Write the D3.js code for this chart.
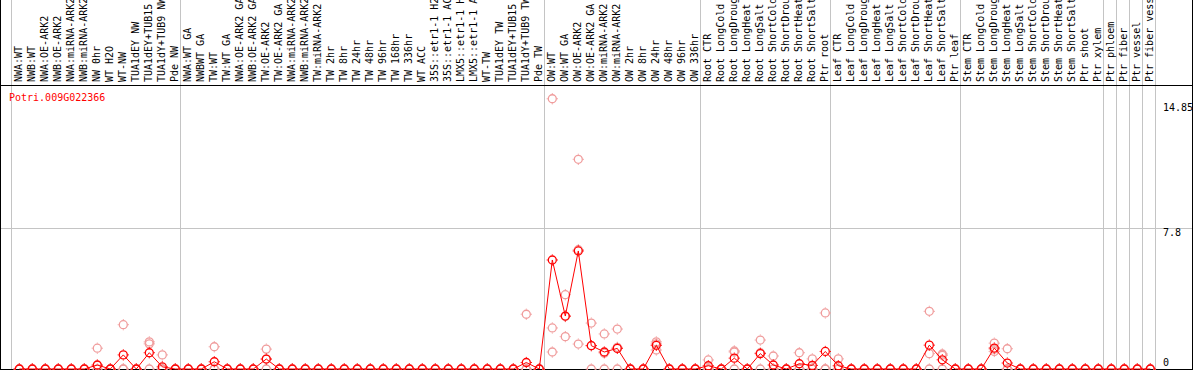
<!DOCTYPE html>
<html><head><meta charset="utf-8">
<script src="https://cdn.jsdelivr.net/npm/d3@7"></script>
<style>html,body{margin:0;padding:0;background:#fff;overflow:hidden}</style>
</head><body>
<script>
const geneId = "Potri.009G022366";

const samples = [
  "NWA:WT","NWB:WT","NWA:OE-ARK2","NWB:OE-ARK2","NWA:miRNA-ARK2","NWB:miRNA-ARK2","NW 0hr","WT H2O","WT-NW","TUA1dEY NW","TUA1dEY+TUB15","TUA1dY+TUB9 NW","Pde NW",
  "NWA:WT GA","NWBWT GA","TW:WT","TW:WT GA","NWA:OE-ARK2 GA","NWB:OE-ARK2 GA","TW:OE-ARK2","TW:OE-ARK2 GA","NWA:miRNA-ARK2","NWB:miRNA-ARK2","TW:miRNA-ARK2","TW 2hr","TW 8hr","TW 24hr","TW 48hr","TW 96hr","TW 168hr","TW 336hr","WT ACC","35S::etr1-1 H2","35S::etr1-1 AC","LMX5::etr1-1 H","LMX5::etr1-1 A","WT-TW","TUA1dEY TW","TUA1dEY+TUB15","TUA1dY+TUB9 TW","Pde TW",
  "OW:WT","OW:WT GA","OW:OE-ARK2","OW:OE-ARK2 GA","OW:miRNA-ARK2","OW:miRNA-ARK2","OW 2hr","OW 8hr","OW 24hr","OW 48hr","OW 96hr","OW 336hr",
  "Root CTR","Root LongCold","Root LongDroug","Root LongHeat","Root LongSalt","Root ShortCold","Root ShortDrou","Root ShortHeat","Root ShortSalt","Ptr root",
  "Leaf CTR","Leaf LongCold","Leaf LongDroug","Leaf LongHeat","Leaf LongSalt","Leaf ShortCold","Leaf ShortDrou","Leaf ShortHeat","Leaf ShortSalt","Ptr leaf",
  "Stem CTR","Stem LongCold","Stem LongDroug","Stem LongHeat","Stem LongSalt","Stem ShortCold","Stem ShortDrou","Stem ShortHeat","Stem ShortSalt","Ptr shoot","Ptr xylem",
  "Ptr phloem","Ptr fiber","Ptr vessel","Ptr fiber vess"
];

// first sample index of each group (last entry = end)
const groupStarts = [0, 13, 41, 53, 63, 73, 84, 85, 86, 87, 88];

const means = [
  0,0,0,0,0,0,0.22,0,0.78,0,0.9,0.12,0,
  0,0,0.4,0,0,0,0.55,0, 0,0,0,0,0,0,0,0, 0,0,0,0,0,0,0,0,0,0,0.36,0,
  6.03,2.93,6.53,1.29,0.94,1.14,0,0,1.31,0,0,0,
  0.18,0,0.6,0,0.85,0.22,0,0.29,0.2,0.97,
  0.18,0,0,0,0,0,0,1.32,0.51,0,
  0,0,1.16,0.33,0,0,0,0,0,0,0,
  0,0,0,0
];

const rep1 = [
  0,0,0,0,0,0,1.15,0,2.45,0,1.5,0.78,0,
  0,0,1.23,0,0,0,1.1,0, 0,0,0,0,0,0,0,0, 0,0,0,0,0,0,0,0,0,0,3.03,0,
  14.95,4.11,11.6,2.54,1.94,2.21,0,0,1.5,0,0,0,
  0.5,0,1.0,0,1.6,0.72,0,0.9,0.56,3.1,
  0.56,0,0,0,0,0,0,3.19,0.83,0,
  0,0,1.43,1.12,0,0,0,0,0,0,0,
  0,0,0,0
];

const rep2 = [
  0,0,0,0,0,0,0.2,0,0,0,1.39,0,0,
  0,0,0,0,0,0,0.55,0, 0,0,0,0,0,0,0,0, 0,0,0,0,0,0,0,0,0,0,0,0,
  2.27,1.79,1.38,0,0,0,0,0,1.39,0,0,0,
  0,0,0.94,0,0.9,0,0,0,0,0,
  0,0,0,0,0,0,0,0.85,0.76,0,
  0,0,0.97,0,0,0,0,0,0,0,0,
  0,0,0,0
];

const rep3 = [
  0,0,0,0,0,0,0,0,0,0,0,0,0,
  0,0,0,0,0,0,0,0, 0,0,0,0,0,0,0,0, 0,0,0,0,0,0,0,0,0,0,0,0,
  0.94,2.9,6.6,1.3,0.88,1.2,0,0,1.05,0,0,0,
  0,0,0,0,0,0,0,0,0,0,
  0,0,0,0,0,0,0,0,0,0,
  0,0,1.1,0,0,0,0,0,0,0,0,
  0,0,0,0
];

const yTicks = [14.85, 7.8, 0];
const yTickLabels = ["14.85", "7.8", "0"];
const gridValues = [7.8];

const W = 1194, H = 370;
const FONT = "'DejaVu Sans Mono', monospace";
const RED = "#ff0000", PINK = "#f09c9c", GRAY = "#c4c4c4";

const svg = d3.select("body").append("svg")
  .attr("width", W).attr("height", H)
  .style("display", "block");

const x = d3.scaleBand().domain(d3.range(samples.length)).range([11, 1155]);
const cx = i => x(i) + 8.3;
const bx = k => (k < samples.length ? x(k) : x.range()[1]);
const y = d3.scaleLinear().domain([0, 7.8]).range([369, 228]);

// group separators
svg.append("g").selectAll("line").data(groupStarts).join("line")
  .attr("x1", k => bx(k) + 0.5).attr("x2", k => bx(k) + 0.5)
  .attr("y1", 0).attr("y2", H)
  .attr("stroke", GRAY).attr("stroke-width", 1).attr("shape-rendering", "crispEdges");

// horizontal grid
svg.append("g").selectAll("line").data(gridValues).join("line")
  .attr("x1", 0).attr("x2", 1193)
  .attr("y1", d => y(d) + 0.5).attr("y2", d => y(d) + 0.5)
  .attr("stroke", GRAY).attr("stroke-width", 1).attr("shape-rendering", "crispEdges");

// frame
const frame = svg.append("g").attr("stroke", "#000").attr("stroke-width", 1).attr("shape-rendering", "crispEdges");
frame.append("line").attr("x1", 0).attr("x2", 1193).attr("y1", 85.5).attr("y2", 85.5);
frame.append("line").attr("x1", 0).attr("x2", 1193).attr("y1", 369.5).attr("y2", 369.5);
frame.append("line").attr("x1", 0.5).attr("x2", 0.5).attr("y1", 0).attr("y2", H);
frame.append("line").attr("x1", 1192.5).attr("x2", 1192.5).attr("y1", 0).attr("y2", H);

// sample labels
svg.append("g").selectAll("text").data(samples).join("text")
  .attr("transform", (d, i) => `translate(${cx(i) + 3},82) rotate(-90)`)
  .attr("font-family", FONT).attr("font-size", 10).attr("fill", "#000")
  .attr("xml:space", "preserve")
  .text(d => d);

// gene id
svg.append("text").attr("x", 9).attr("y", 101)
  .attr("font-family", FONT).attr("font-size", 10).attr("fill", RED)
  .text(geneId);

// y tick labels
const tickDy = [10, 7.5, -3];
svg.append("g").selectAll("text").data(yTicks).join("text")
  .attr("x", 1163).attr("y", (d, i) => y(d) + tickDy[i])
  .attr("font-family", FONT).attr("font-size", 10).attr("fill", "#000")
  .text((d, i) => yTickLabels[i]);

function marker(sel, color) {
  sel.append("circle").attr("r", 4).attr("fill", "none")
    .attr("stroke", color).attr("stroke-width", 1.3);
  [[0, -1], [0, 1], [-1, 0], [1, 0]].forEach(([dx, dy]) => {
    sel.append("line")
      .attr("x1", dx * 4.6).attr("y1", dy * 4.6)
      .attr("x2", dx * 5.6).attr("y2", dy * 5.6)
      .attr("stroke", color).attr("stroke-width", 1);
  });
}

// replicates
[rep1, rep2, rep3].forEach(rep => {
  svg.append("g").selectAll("g").data(rep).join("g")
    .attr("transform", (d, i) => `translate(${cx(i)},${y(d)})`)
    .each(function () { marker(d3.select(this), PINK); });
});

// mean line
svg.append("path").datum(means)
  .attr("d", d3.line().x((d, i) => cx(i)).y(d => y(d)))
  .attr("fill", "none").attr("stroke", RED).attr("stroke-width", 1);

// mean markers
svg.append("g").selectAll("g").data(means).join("g")
  .attr("transform", (d, i) => `translate(${cx(i)},${y(d)})`)
  .each(function () { marker(d3.select(this), RED); });
</script>
</body></html>
